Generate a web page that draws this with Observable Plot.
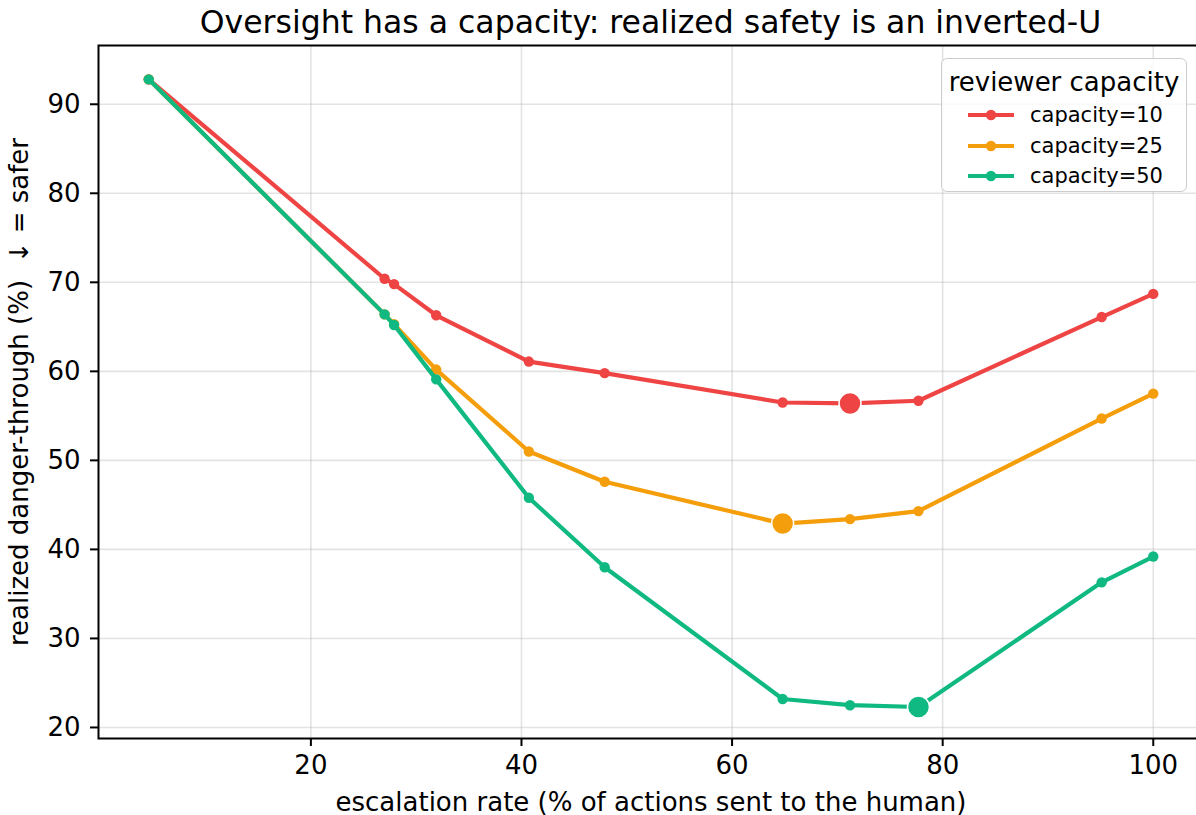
<!DOCTYPE html>
<html>
<head>
<meta charset="utf-8">
<script src="https://cdn.jsdelivr.net/npm/d3@7"></script>
<script src="https://cdn.jsdelivr.net/npm/@observablehq/plot@0.6"></script>
<style>
  html, body { margin: 0; padding: 0; background: #fff; overflow: hidden; }
  #wrap { position: relative; width: 1196px; height: 815px; overflow: hidden; font-family: "DejaVu Sans", sans-serif; color: #000; }
  #title { position: absolute; left: 98px; width: 1105px; top: 7px; font-size: 31.5px; line-height: 31px; text-align: center; white-space: nowrap; }
  #chart { position: absolute; left: 0; top: 44px; width: 1203px; }
  #chart svg { max-width: none !important; }
  #legend { position: absolute; left: 941px; top: 58px; width: 246px; height: 134px; box-sizing: border-box;
            border: 1.5px solid #cccccc; border-radius: 6px; background: rgba(255,255,255,0.8); }
  #legend .ttl { position: absolute; left: 0; width: 100%; top: 8px; text-align: center; font-size: 26px; line-height: 30px; }
  #legend .row { position: absolute; left: 26px; height: 24px; display: flex; align-items: center; font-size: 21px; }
  #legend .row svg { margin-right: 16px; }
</style>
</head>
<body>
<div id="wrap">
  <div id="title">Oversight has a capacity: realized safety is an inverted-U</div>
  <div id="chart"></div>
  <div id="legend"></div>
</div>
<script>
// ---- data ----
const escalation = [4.6, 27.0, 27.9, 31.9, 40.7, 47.9, 64.8, 71.2, 77.7, 95.1, 100];
const cap10 = [92.8, 70.4, 69.8, 66.3, 61.1, 59.8, 56.5, 56.4, 56.7, 66.1, 68.7];
const cap25 = [92.8, 66.4, 65.3, 60.2, 51.0, 47.6, 42.9, 43.4, 44.3, 54.7, 57.5];
const cap50 = [92.8, 66.4, 65.2, 59.1, 45.8, 38.0, 23.2, 22.5, 22.3, 36.3, 39.2];
const seriesNames = ["capacity=10", "capacity=25", "capacity=50"];
const seriesColors = ["#ef4444", "#f59e0b", "#10b981"];
const bestIndex = [7, 6, 8];
const xTicks = [20, 40, 60, 80, 100];
const yTicks = [20, 30, 40, 50, 60, 70, 80, 90];
const titleText = "Oversight has a capacity: realized safety is an inverted-U";
const xLabel = "escalation rate (% of actions sent to the human)";
const yLabel = "realized danger-through (%)\u00a0\u00a0\u2193 = safer";
const legendTitle = "reviewer capacity";

const seriesValues = [cap10, cap25, cap50];
const rows = [];
seriesNames.forEach((name, s) => {
  escalation.forEach((x, i) => rows.push({series: name, x, y: seriesValues[s][i], best: i === bestIndex[s]}));
});

const marks = [
  Plot.gridX(xTicks, {stroke: "#b0b0b0", strokeOpacity: 0.35, strokeWidth: 1.6}),
  Plot.gridY(yTicks, {stroke: "#b0b0b0", strokeOpacity: 0.35, strokeWidth: 1.6})
];
seriesNames.forEach((name) => {
  const d = rows.filter(r => r.series === name);
  marks.push(Plot.line(d, {x: "x", y: "y", stroke: "series", strokeWidth: 4.2, strokeLinejoin: "round"}));
  marks.push(Plot.dot(d.filter(r => !r.best), {x: "x", y: "y", fill: "series", r: 5.2}));
});
marks.push(Plot.dot(rows.filter(r => r.best), {x: "x", y: "y", fill: "series", r: 11, stroke: "white", strokeWidth: 1.5}));
marks.push(Plot.frame({stroke: "#000", strokeWidth: 2}));
marks.push(Plot.axisX(xTicks, {tickSize: 8, tickPadding: 9, strokeWidth: 2, fontSize: 26,
  label: xLabel, labelAnchor: "center", labelArrow: "none", labelOffset: 72}));
marks.push(Plot.axisY(yTicks, {tickSize: 8, tickPadding: 10, strokeWidth: 2, fontSize: 26,
  label: yLabel, labelAnchor: "center", labelArrow: "none", labelOffset: 89}));

const chart = Plot.plot({
  width: 1203,
  height: 771,
  marginLeft: 98, marginRight: 0, marginTop: 1, marginBottom: 77,
  style: {fontFamily: "DejaVu Sans", fontSize: "26px", color: "#000", background: "transparent", overflow: "visible", maxWidth: "none"},
  x: {domain: [-0.17, 104.77]},
  y: {domain: [18.76, 96.6]},
  color: {domain: seriesNames, range: seriesColors},
  marks
});
chart.style.maxWidth = "none";
document.getElementById("title").textContent = titleText;
document.getElementById("chart").appendChild(chart);

// legend
const legend = document.getElementById("legend");
const ttl = document.createElement("div");
ttl.className = "ttl";
ttl.textContent = legendTitle;
legend.appendChild(ttl);
const rowTops = [44, 75, 105];
seriesNames.forEach((name, i) => {
  const row = document.createElement("div");
  row.className = "row";
  row.style.top = rowTops[i] + "px";
  row.innerHTML = `<svg width="46" height="12"><line x1="0" y1="6" x2="46" y2="6" stroke="${seriesColors[i]}" stroke-width="4.2"/><circle cx="23" cy="6" r="5.2" fill="${seriesColors[i]}"/></svg><span>${name}</span>`;
  legend.appendChild(row);
});
</script>
</body>
</html>
